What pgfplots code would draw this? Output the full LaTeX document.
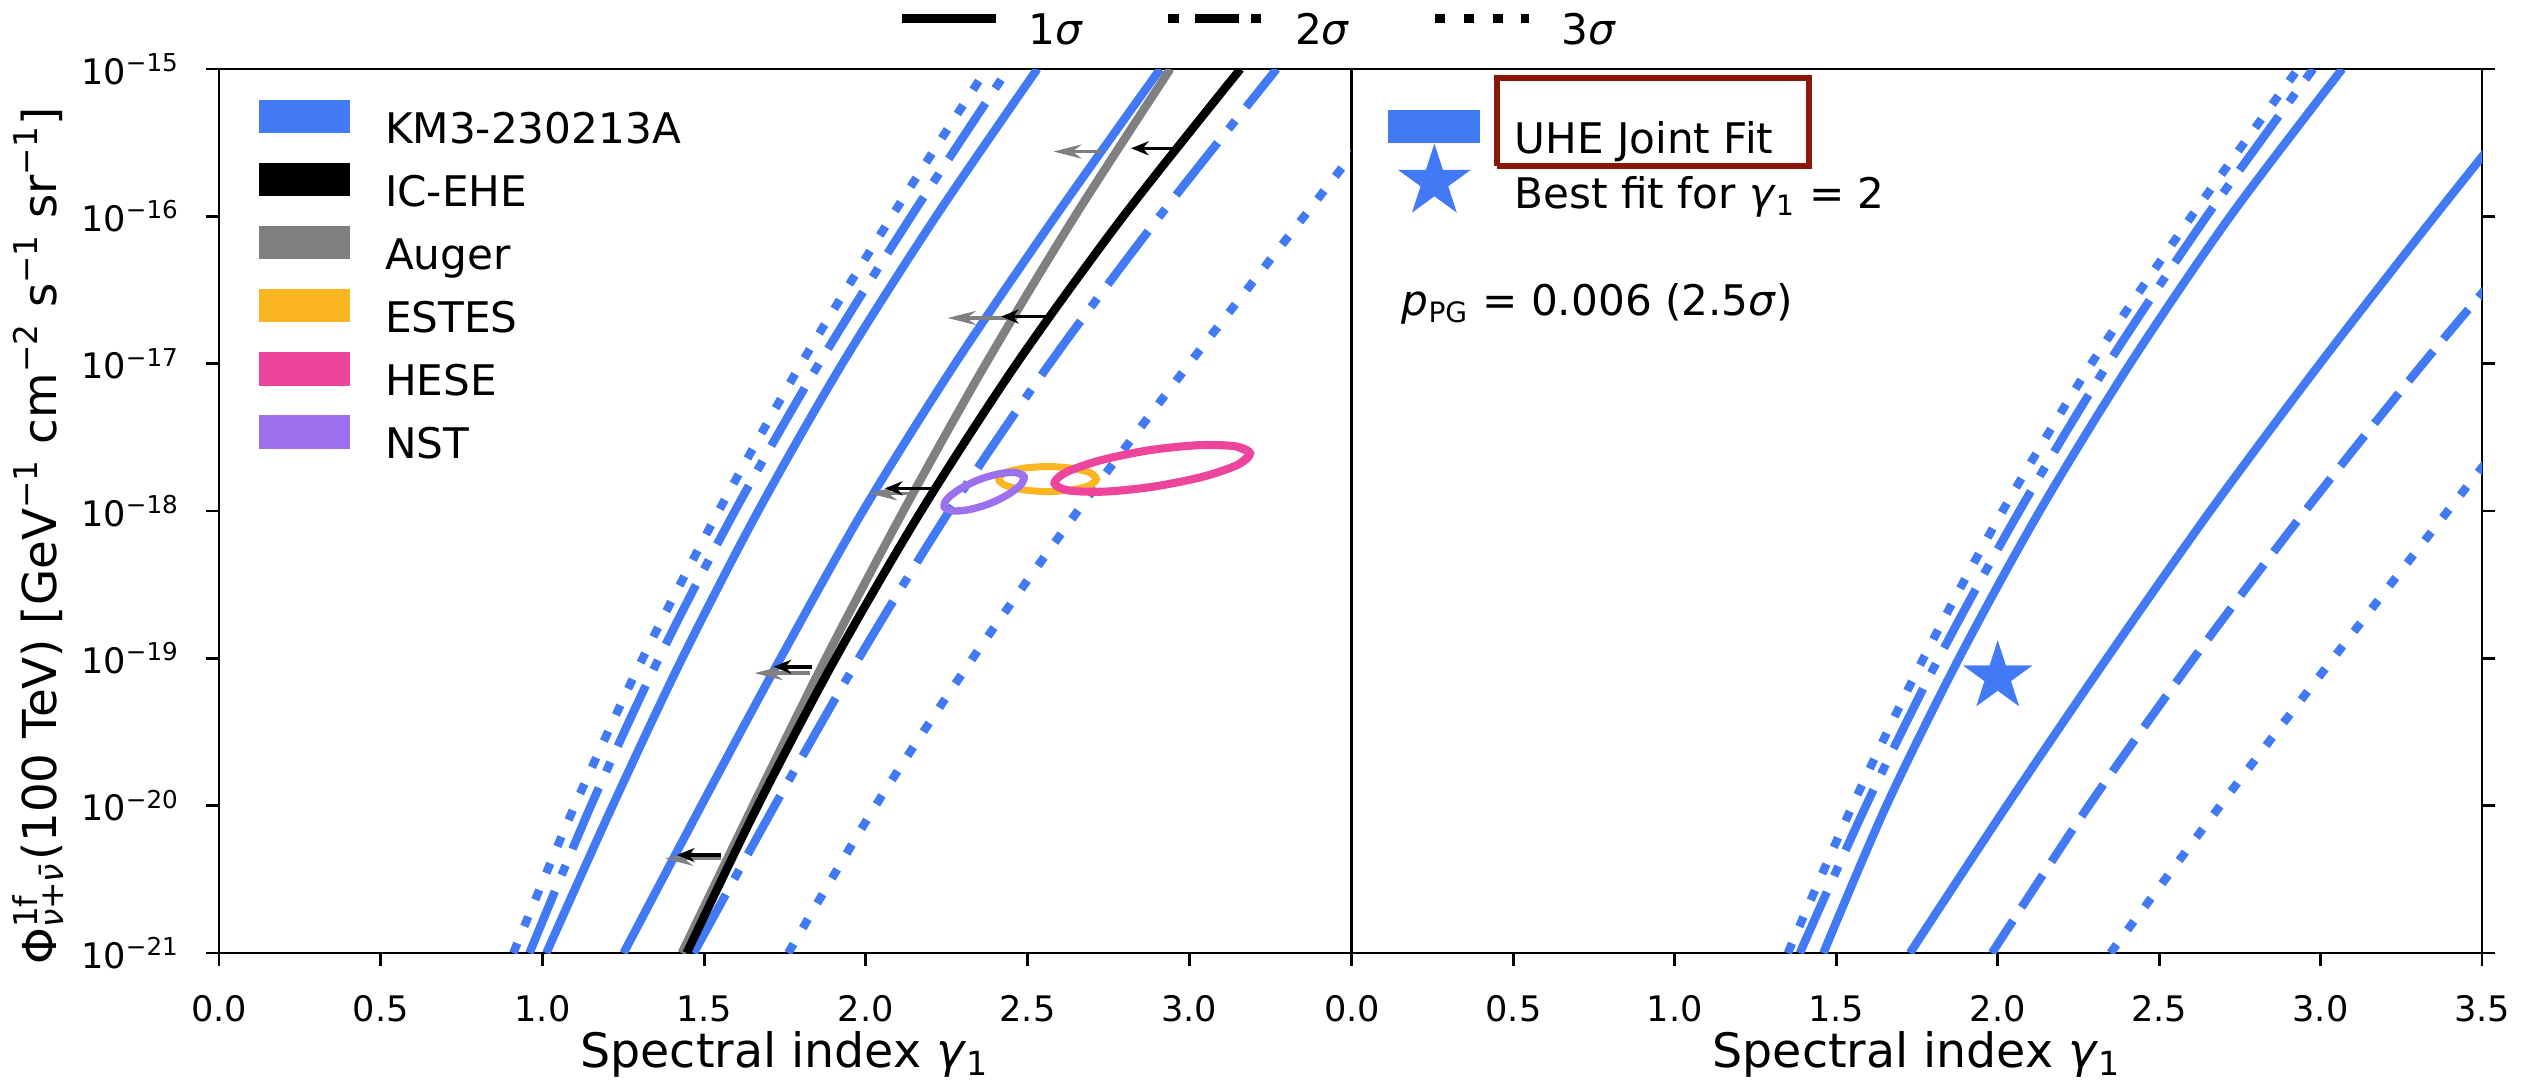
\documentclass[border=0pt]{standalone}
\usepackage{pgfplots}
\pgfplotsset{compat=1.18}
\usepackage{fontspec}
\setmainfont{DejaVu Sans}
\usetikzlibrary{arrows.meta}

\definecolor{kmblue}{RGB}{66,121,245}
\definecolor{estes}{RGB}{252,182,35}
\definecolor{hese}{RGB}{236,69,155}
\definecolor{nst}{RGB}{157,112,240}
\definecolor{boxred}{RGB}{138,24,10}
\definecolor{augergray}{RGB}{128,128,128}

\pgfdeclareplotmark{fivestar}{%
  \pgfpathmoveto{\pgfpointpolar{90}{\pgfplotmarksize}}%
  \pgfpathlineto{\pgfpointpolar{126}{0.382\pgfplotmarksize}}%
  \pgfpathlineto{\pgfpointpolar{162}{\pgfplotmarksize}}%
  \pgfpathlineto{\pgfpointpolar{198}{0.382\pgfplotmarksize}}%
  \pgfpathlineto{\pgfpointpolar{234}{\pgfplotmarksize}}%
  \pgfpathlineto{\pgfpointpolar{270}{0.382\pgfplotmarksize}}%
  \pgfpathlineto{\pgfpointpolar{306}{\pgfplotmarksize}}%
  \pgfpathlineto{\pgfpointpolar{342}{0.382\pgfplotmarksize}}%
  \pgfpathlineto{\pgfpointpolar{18}{\pgfplotmarksize}}%
  \pgfpathlineto{\pgfpointpolar{54}{0.382\pgfplotmarksize}}%
  \pgfpathclose
  \pgfusepathqfillstroke
}

\tikzset{
  sigone/.style={kmblue, line width=2.4pt},
  sigtwo/.style={kmblue, line width=2.4pt, dash pattern=on 19pt off 5pt on 3pt off 5pt},
  sigtwod/.style={kmblue, line width=2.4pt, dash pattern=on 11pt off 4.5pt},
  sigthree/.style={kmblue, line width=2.4pt, dash pattern=on 3pt off 5.2pt},
}

\begin{document}
\begin{tikzpicture}
\path[use as bounding box] (0,0) rectangle (25.42,10.86);

% ---------------- left panel ----------------
\begin{axis}[at={(2.19cm,1.33cm)}, anchor=south west,
  scale only axis, width=11.32cm, height=8.84cm,
  xmin=0, xmax=3.5, ymode=log, ymin=1e-21, ymax=1e-15,
  ytick={1e-21,1e-20,1e-19,1e-18,1e-17,1e-16,1e-15},
  yminorticks=false,
  xtick={0,0.5,1,1.5,2,2.5,3,3.5},
  tick align=outside, major tick length=0.13cm,
  axis line style={line width=0.8pt},
  every tick/.style={black, line width=0.8pt},
  xtick pos=left, ytick pos=left,
  tick label style={font=\fontsize{10}{12}\selectfont},
  xticklabel style={yshift=-0.17cm},
  yticklabel style={xshift=-0.14cm},
  yticklabels={10\textsuperscript{−21},10\textsuperscript{−20},10\textsuperscript{−19},10\textsuperscript{−18},10\textsuperscript{−17},10\textsuperscript{−16},10\textsuperscript{−15}},
  xticklabels={0.0,0.5,1.0,1.5,2.0,2.5,3.0,{}},
  xlabel={Spectral index \textit{γ}\textsubscript{1}},
  xlabel style={at={(axis description cs:0.5,-0.130)}, anchor=base, font=\fontsize{13.5}{16}\selectfont},
  ylabel={Φ\rlap{\textsuperscript{1f}}\textsubscript{\textit{ν}+\textit{ν̄}}(100 TeV) [GeV\textsuperscript{−1} cm\textsuperscript{−2} s\textsuperscript{−1} sr\textsuperscript{−1}]},
  ylabel style={at={(axis description cs:-0.126,0.472)}, anchor=south, font=\fontsize{13.3}{16}\selectfont},
  legend cell align=left,
  legend style={at={(0.0344,0.966)}, anchor=north west, draw=none, fill=none, inner sep=0pt,
    row sep=0.094cm, font=\fontsize{12}{14}\selectfont,
    nodes={inner sep=0pt, text height=0.32cm, text depth=0.1cm}},
]
\addlegendimage{legend image code/.code={\fill[kmblue] (0cm,0cm) rectangle (0.9cm,0.32cm); \path (1.25cm,0cm);}}
\addlegendentry{KM3-230213A}
\addlegendimage{legend image code/.code={\fill[black] (0cm,0cm) rectangle (0.9cm,0.32cm); \path (1.25cm,0cm);}}
\addlegendentry{IC-EHE}
\addlegendimage{legend image code/.code={\fill[augergray] (0cm,0cm) rectangle (0.9cm,0.32cm); \path (1.25cm,0cm);}}
\addlegendentry{Auger}
\addlegendimage{legend image code/.code={\fill[estes] (0cm,0cm) rectangle (0.9cm,0.32cm); \path (1.25cm,0cm);}}
\addlegendentry{ESTES}
\addlegendimage{legend image code/.code={\fill[hese] (0cm,0cm) rectangle (0.9cm,0.32cm); \path (1.25cm,0cm);}}
\addlegendentry{HESE}
\addlegendimage{legend image code/.code={\fill[nst] (0cm,0cm) rectangle (0.9cm,0.32cm); \path (1.25cm,0cm);}}
\addlegendentry{NST}

% KM3-230213A contours (1, 2, 3 sigma)
\addplot[sigthree, smooth, forget plot] coordinates {(0.91,1e-21)(1.10,1e-20)(1.31,1e-19)(1.545,1e-18)(1.80,1e-17)(2.08,1e-16)(2.373,1e-15)};
\addplot[sigtwo, smooth, forget plot] coordinates {(0.96,1e-21)(1.15,1e-20)(1.36,1e-19)(1.595,1e-18)(1.855,1e-17)(2.14,1e-16)(2.44,1e-15)};
\addplot[sigone, smooth, forget plot] coordinates {(1.012,1e-21)(1.217,1e-20)(1.432,1e-19)(1.667,1e-18)(1.927,1e-17)(2.217,1e-16)(2.53,1e-15)};
\addplot[sigone, smooth, forget plot] coordinates {(1.251,1e-21)(1.491,1e-20)(1.736,1e-19)(1.991,1e-18)(2.276,1e-17)(2.586,1e-16)(2.91,1e-15)};
\addplot[sigtwo, smooth, forget plot] coordinates {(1.468,1e-21)(1.718,1e-20)(1.978,1e-19)(2.258,1e-18)(2.568,1e-17)(2.908,1e-16)(3.27,1e-15)};
\addplot[sigthree, smooth, forget plot] coordinates {(1.76,1e-21)(2.03,1e-20)(2.33,1e-19)(2.655,1e-18)(3.0,1e-17)(3.355,1e-16)(3.71,1e-15)};
% Auger and IC-EHE
\addplot[augergray, line width=2.4pt, smooth, forget plot] coordinates {(1.431,1e-21)(1.651,1e-20)(1.876,1e-19)(2.116,1e-18)(2.371,1e-17)(2.646,1e-16)(2.941,1e-15)};
\addplot[black, line width=2.4pt, smooth, forget plot] coordinates {(1.446,1e-21)(1.666,1e-20)(1.906,1e-19)(2.171,1e-18)(2.466,1e-17)(2.796,1e-16)(3.158,1e-15)};

% ESTES
\addplot[estes, line width=2pt, smooth, forget plot] coordinates {(2.693,1.820e-18)(2.713,1.648e-18)(2.693,1.496e-18)(2.637,1.393e-18)(2.562,1.355e-18)(2.486,1.393e-18)(2.431,1.496e-18)(2.410,1.648e-18)(2.431,1.820e-18)(2.486,1.950e-18)(2.562,2.004e-18)(2.637,1.950e-18)(2.693,1.820e-18)(2.713,1.648e-18)(2.693,1.496e-18)};
% HESE
\addplot[hese, line width=2.3pt, smooth, forget plot] coordinates {(3.143,2.748e-18)(3.188,2.466e-18)(3.152,2.070e-18)(3.044,1.714e-18)(2.894,1.469e-18)(2.742,1.355e-18)(2.627,1.380e-18)(2.583,1.542e-18)(2.619,1.832e-18)(2.727,2.213e-18)(2.877,2.588e-18)(3.030,2.799e-18)(3.143,2.748e-18)(3.188,2.466e-18)(3.152,2.070e-18)};
% NST
\addplot[nst, line width=2.1pt, smooth, forget plot] coordinates {(2.465,1.824e-18)(2.489,1.710e-18)(2.479,1.507e-18)(2.439,1.291e-18)(2.380,1.117e-18)(2.316,1.019e-18)(2.266,1.002e-18)(2.242,1.069e-18)(2.252,1.213e-18)(2.292,1.416e-18)(2.351,1.637e-18)(2.415,1.795e-18)(2.465,1.824e-18)(2.489,1.710e-18)(2.479,1.507e-18)};

% upper-limit arrows (Auger grey, IC-EHE black)
\addplot[augergray, line width=1pt, forget plot, -{Stealth[length=8pt,width=4pt]}] coordinates {(2.731,2.754e-16)(2.58,2.754e-16)};
\addplot[augergray, line width=1pt, forget plot, -{Stealth[length=8pt,width=4pt]}] coordinates {(2.447,2.042e-17)(2.253,2.042e-17)};
\addplot[augergray, line width=1pt, forget plot, -{Stealth[length=8pt,width=4pt]}] coordinates {(2.133,1.318e-18)(2.01,1.318e-18)};
\addplot[augergray, line width=1pt, forget plot, -{Stealth[length=8pt,width=4pt]}] coordinates {(1.827,7.943e-20)(1.656,7.943e-20)};
\addplot[augergray, line width=1pt, forget plot, -{Stealth[length=8pt,width=4pt]}] coordinates {(1.551,4.365e-21)(1.379,4.365e-21)};
\addplot[black, line width=1pt, forget plot, -{Stealth[length=5pt,width=4pt]}] coordinates {(2.949,2.897e-16)(2.82,2.897e-16)};
\addplot[black, line width=1pt, forget plot, -{Stealth[length=5pt,width=4pt]}] coordinates {(2.567,2.089e-17)(2.418,2.089e-17)};
\addplot[black, line width=1pt, forget plot, -{Stealth[length=5pt,width=4pt]}] coordinates {(2.208,1.426e-18)(2.059,1.426e-18)};
\addplot[black, line width=1pt, forget plot, -{Stealth[length=5pt,width=4pt]}] coordinates {(1.835,8.77e-20)(1.715,8.77e-20)};
\addplot[black, line width=1pt, forget plot, -{Stealth[length=5pt,width=4pt]}] coordinates {(1.551,4.624e-21)(1.416,4.624e-21)};
\end{axis}

% ---------------- sigma legend (legend-only axis) ----------------
\begin{axis}[at={(2.19cm,1.33cm)}, anchor=south west, scale only axis, width=11.32cm, height=8.84cm,
  hide axis, xmin=0, xmax=1, ymin=0, ymax=1,
  legend columns=3,
  legend style={at={(0.5988,1.0396)}, anchor=west, draw=none, fill=none, inner sep=0pt,
    font=\fontsize{12}{14}\selectfont,
    nodes={inner sep=0pt, text height=0.32cm, text depth=0.1cm},
    /tikz/every even column/.append style={column sep=0.81cm}},
]
\addlegendimage{legend image code/.code={\draw[black, line width=2.4pt] (0cm,0.155cm) -- (0.94cm,0.155cm); \path (1.26cm,0cm);}}
\addlegendentry{1\textit{σ}}
\addlegendimage{legend image code/.code={\draw[black, line width=2.4pt, dash pattern=on 3pt off 4.5pt on 12.5pt off 3.5pt on 3pt] (0cm,0.155cm) -- (0.94cm,0.155cm); \path (1.26cm,0cm);}}
\addlegendentry{2\textit{σ}}
\addlegendimage{legend image code/.code={\draw[black, line width=2.4pt, dash pattern=on 3pt off 5.2pt] (0cm,0.155cm) -- (0.94cm,0.155cm); \path (1.26cm,0cm);}}
\addlegendentry{3\textit{σ}}
\end{axis}

% ---------------- right panel ----------------
\begin{axis}[at={(13.52cm,1.33cm)}, anchor=south west,
  scale only axis, width=11.30cm, height=8.84cm,
  xmin=0, xmax=3.5, ymode=log, ymin=1e-21, ymax=1e-15,
  ytick={1e-21,1e-20,1e-19,1e-18,1e-17,1e-16,1e-15},
  yminorticks=false,
  xtick={0,0.5,1,1.5,2,2.5,3,3.5},
  tick align=outside, major tick length=0.13cm,
  axis line style={line width=0.8pt},
  every tick/.style={black, line width=0.8pt},
  xtick pos=left, ytick pos=right,
  tick label style={font=\fontsize{10}{12}\selectfont},
  xticklabel style={yshift=-0.17cm},
  yticklabel=\empty,
  xticklabels={0.0,0.5,1.0,1.5,2.0,2.5,3.0,3.5},
  xlabel={Spectral index \textit{γ}\textsubscript{1}},
  xlabel style={at={(axis description cs:0.5,-0.130)}, anchor=base, font=\fontsize{13.5}{16}\selectfont},
  legend cell align=left,
  legend style={at={(0.0314,0.9548)}, anchor=north west, draw=none, fill=none, inner sep=0pt,
    row sep=0.134cm, font=\fontsize{12}{14}\selectfont,
    nodes={inner sep=0pt, text height=0.32cm, text depth=0.1cm}},
]
\addlegendimage{legend image code/.code={\fill[kmblue] (0cm,0cm) rectangle (0.9cm,0.32cm); \path (1.25cm,0cm);}}
\addlegendentry{UHE Joint Fit}
\addlegendimage{legend image code/.code={\path (0cm,0cm) (1.25cm,0cm); \path[overlay, fill=kmblue, draw=kmblue] plot[only marks, mark=fivestar, mark size=10.2pt] coordinates {(0.455cm,0.16cm)};}}
\addlegendentry{Best fit for \textit{γ}\textsubscript{1} = 2}

\addplot[sigthree, smooth, forget plot] coordinates {(1.35,1e-21)(1.55,1e-20)(1.77,1e-19)(2.015,1e-18)(2.29,1e-17)(2.60,1e-16)(2.93,1e-15)};
\addplot[sigtwo, smooth, forget plot] coordinates {(1.387,1e-21)(1.592,1e-20)(1.817,1e-19)(2.067,1e-18)(2.342,1e-17)(2.647,1e-16)(2.977,1e-15)};
\addplot[sigone, smooth, forget plot] coordinates {(1.46,1e-21)(1.655,1e-20)(1.88,1e-19)(2.13,1e-18)(2.41,1e-17)(2.72,1e-16)(3.067,1e-15)};
\addplot[sigone, smooth, forget plot] coordinates {(1.728,1e-21)(2.028,1e-20)(2.338,1e-19)(2.658,1e-18)(2.998,1e-17)(3.353,1e-16)(3.718,1e-15)};
\addplot[sigtwod, smooth, forget plot] coordinates {(1.982,1e-21)(2.282,1e-20)(2.607,1e-19)(2.952,1e-18)(3.317,1e-17)(3.702,1e-16)};
\addplot[sigthree, smooth, forget plot] coordinates {(2.349,1e-21)(2.689,1e-20)(3.039,1e-19)(3.394,1e-18)(3.754,1e-17)};

\addplot[only marks, mark=fivestar, mark size=10.2pt, forget plot, mark options={fill=kmblue, draw=kmblue, line width=0.1pt}] coordinates {(2.0,7.5e-20)};

\addplot[boxred, line width=1.8pt, forget plot, line join=miter] coordinates {(0.449,2.198e-16)(1.415,2.198e-16)(1.415,8.69e-16)(0.449,8.69e-16)(0.449,2.198e-16)};

\node[anchor=west, inner sep=0pt, font=\fontsize{12}{14}\selectfont] at (rel axis cs:0.0434,0.734) {\textit{p}\textsubscript{PG} = 0.006 (2.5\textit{σ})};
\end{axis}
\end{tikzpicture}
\end{document}
